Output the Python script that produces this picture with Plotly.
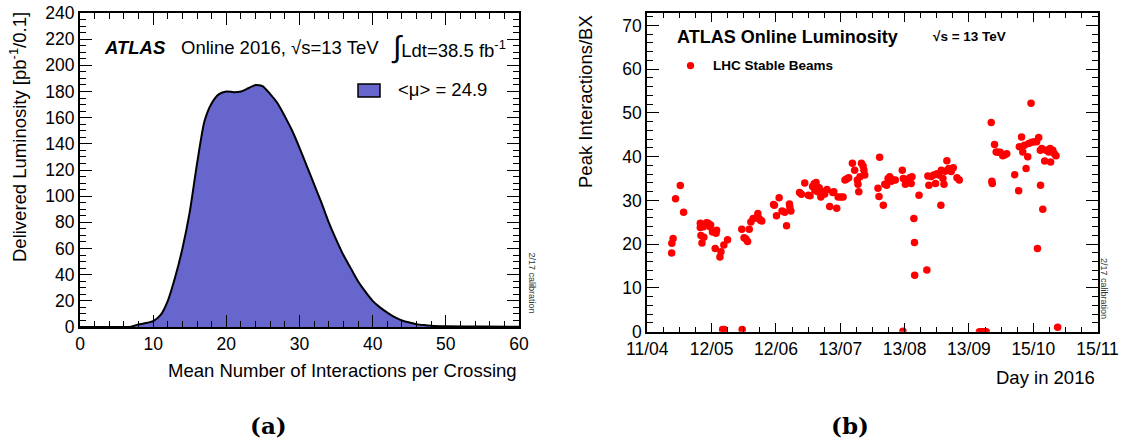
import plotly.graph_objects as go

W, H = 1125, 443

# ---------------- (a) pile-up distribution ----------------
mu_values = [0, 6, 7, 8, 9, 10, 11, 12, 13, 14, 15, 16, 17, 18, 19, 20, 21, 22, 23, 24,
             25, 26, 27, 28, 29, 30, 31, 32, 33, 34, 35, 36, 37, 38, 39, 40, 41, 42, 43,
             44, 45, 46, 47, 48, 50, 55, 60]
delivered_lumi = [0, 0, 0.3, 2, 3, 4.5, 9, 20, 38, 60, 88, 125, 157, 171, 178, 180, 179.5,
                  180, 182.5, 185, 184, 178, 171, 161, 150, 137, 123, 109, 95, 80, 67, 55,
                  45, 35, 27, 20, 15, 11, 7.5, 5, 3.5, 2.2, 1.5, 1, 0.6, 0.3, 0.2]

# ---------------- (b) peak interactions per BX ----------------
days_since_apr11 = [
    11.8, 11.9, 12.5, 13.7, 16.0, 17.6,
    25.7, 25.7, 26.0, 26.5, 27.4, 27.2, 28.7, 29.5, 30.7, 30.4, 31.6, 33.3, 33.6, 32.9,
    35.2, 35.7, 37.1, 38.9, 36.5, 37.3, 46.0,
    45.8, 46.9, 47.8, 48.6, 49.4, 50.2, 51.3, 52.6, 53.6, 54.2, 55.5, 54.8,
    61.2, 61.6, 62.6, 63.9,
    65.3, 66.6, 67.5, 68.9, 69.6, 69.1,
    73.8, 74.7, 76.3, 78.1, 78.9, 80.1, 80.9, 81.8, 81.2, 82.5, 83.3, 84.1, 85.2, 86.0,
    87.1, 88.4, 89.9, 90.4, 91.8, 92.5, 93.8, 94.9,
    95.8, 96.6, 97.6, 99.4, 100.5, 101.8, 102.1, 102.5, 103.1, 103.8, 104.6, 105.0, 105.4,
    112.6, 111.8, 112.3, 114.4, 115.1, 116.0, 116.7, 117.5, 118.3, 119.1, 120.2,
    123.6, 124.1, 125.1, 126.1, 127.2, 128.3, 123.9, 127.9,
    129.2, 129.5, 129.6,
    131.7, 135.5, 136.0, 136.5, 137.6, 138.8, 139.7, 140.4, 141.3, 142.3, 142.5, 143.3,
    143.8, 144.3, 145.2, 146.1, 147.3, 148.3, 150.1, 151.2,
    161.0, 161.8, 162.6, 163.5, 164.3,
    166.7, 167.0, 167.2, 168.3, 169.1, 169.9, 171.0, 172.3, 173.1, 174.2,
    178.1, 180.0, 180.3, 181.4, 182.0, 182.8, 183.6, 184.4, 184.9, 186.0, 186.3, 187.6,
    188.7, 189.1, 189.7, 190.5, 190.6, 191.7, 191.2, 192.6, 193.3, 194.6, 195.5, 195.2,
    196.5, 197.3, 198.1, 198.9,
]
peak_interactions = [
    18.0, 20.2, 21.3, 30.4, 33.4, 27.3,
    24.8, 23.8, 22.0, 20.3, 21.6, 24.0, 24.9, 24.8, 24.4, 24.0, 22.8, 22.5, 23.2, 19.0,
    17.1, 18.3, 19.8, 21.0, 0.5, 0.5, 0.5,
    23.4, 21.5, 21.2, 20.6, 23.4, 25.1, 25.9, 26.0, 27.0, 25.9, 25.3, 25.5,
    29.1, 28.9, 26.5, 30.6,
    27.6, 27.3, 24.2, 29.2, 27.6, 28.5,
    31.8, 31.4, 34.0, 31.2, 31.1, 33.2, 33.8, 34.1, 32.4, 32.0, 32.9, 30.8, 32.0, 31.5,
    32.5, 28.6, 31.8, 32.0, 28.2, 30.8, 30.8, 30.8,
    34.7, 34.9, 35.2, 38.5, 36.9, 34.7, 33.7, 32.0, 35.4, 38.5, 37.9, 36.9, 35.8,
    39.9, 32.8, 30.9, 28.9, 33.7, 33.5, 35.0, 35.4, 34.4, 34.7, 34.7,
    36.9, 35.0, 33.7, 34.7, 35.2, 35.4, 0.1, 33.9,
    25.9, 20.4, 12.9,
    31.2, 14.1, 35.6, 33.5, 35.5, 35.8, 33.9, 36.1, 35.8, 28.9, 36.9, 35.0,
    33.7, 36.7, 39.1, 37.3, 36.6, 37.5, 35.2, 34.7,
    0.0, 0.0, 0.0, 0.0, 0.0,
    47.8, 34.4, 33.9, 42.8, 41.1, 41.0, 41.0, 40.2, 40.4, 40.7,
    35.9, 32.2, 42.3, 44.5, 41.1, 42.6, 37.3, 40.0, 43.0, 52.2, 43.3, 43.4,
    43.4, 19.0, 44.4, 41.5, 33.5, 28.0, 41.9, 39.0, 41.5, 41.1, 38.8, 41.9,
    41.5, 40.7, 40.2, 1.0,
]

date_tick_labels = ["11/04", "12/05", "12/06", "13/07", "13/08", "13/09", "15/10", "15/11"]
TICK_STEP_DAYS = 31.18

def px_x(p):
    return p / W

def px_y(p):
    return 1 - p / H

FONT = "Liberation Sans, Arial, Helvetica, sans-serif"
fig = go.Figure()

fig.add_trace(go.Scatter(
    x=mu_values, y=delivered_lumi, mode="lines",
    line=dict(color="black", width=2, shape="spline", smoothing=0.6),
    fill="tozeroy", fillcolor="#6666cc",
    xaxis="x", yaxis="y", showlegend=False, hoverinfo="x+y"))

fig.add_trace(go.Scatter(
    x=days_since_apr11, y=peak_interactions, mode="markers",
    marker=dict(color="#ff0000", size=7.5, line=dict(width=0)),
    xaxis="x2", yaxis="y2", showlegend=False, name="LHC Stable Beams"))

def axis(**kw):
    base = dict(showline=True, linecolor="black", linewidth=2, mirror="allticks",
                ticks="inside", ticklen=12, tickwidth=1.3, tickcolor="black",
                showgrid=False, zeroline=False, automargin=False,
                tickfont=dict(family=FONT, size=17.5, color="black"))
    base.update(kw)
    return base

minor_x = dict(ticks="inside", ticklen=6, tickwidth=1, tickcolor="black", showgrid=False)

fig.update_layout(
    width=W, height=H, margin=dict(l=0, r=0, t=0, b=0, autoexpand=False),
    paper_bgcolor="white", plot_bgcolor="white",
    xaxis=axis(domain=[px_x(80), px_x(519)], range=[0, 60], tick0=0, dtick=10,
               anchor="y", minor=dict(minor_x, dtick=2)),
    yaxis=axis(domain=[px_y(327), px_y(13)], range=[0, 240], tick0=0, dtick=20,
               anchor="x", minor=dict(minor_x, dtick=5)),
    xaxis2=axis(domain=[px_x(647.3), px_x(1097.6)], range=[0, 7 * TICK_STEP_DAYS],
                tickmode="array",
                tickvals=[k * TICK_STEP_DAYS for k in range(len(date_tick_labels))],
                ticktext=date_tick_labels, anchor="y2", ticklen=9,
                minor=dict(minor_x, ticklen=4.5, tickmode="array",
                           tickvals=[k * TICK_STEP_DAYS / 4 for k in range(29)])),
    yaxis2=axis(domain=[px_y(331.7), px_y(13)], range=[0, 72.85], tick0=0, dtick=10,
                anchor="x2", minor=dict(minor_x, dtick=2)),
)

ann = []
def text(x, y, s, size=18.5, xanchor="left", yanchor="middle", angle=0, family=FONT, color="black"):
    ann.append(dict(x=px_x(x), y=px_y(y), xref="paper", yref="paper", text=s,
                    showarrow=False, xanchor=xanchor, yanchor=yanchor, textangle=angle,
                    font=dict(family=family, size=size, color=color)))

# panel (a) texts
text(102, 48, "<b><i>ATLAS</i></b>", size=18.5)
text(179, 48, "Online 2016, √s=13 TeV", size=18.5)
text(389, 47, "<span style='font-size:30px'>∫</span>Ldt=38.5 fb<sup>-1</sup>", size=18.5)
text(396, 90, "&lt;μ&gt; = 24.9", size=18.5)
text(18, 137, "Delivered Luminosity [pb<sup>-1</sup>/0.1]", angle=-90, xanchor="center")
text(519, 370, "Mean Number of Interactions per Crossing", xanchor="right")
text(531.5, 283, "2/17 calibration", size=9, angle=90, xanchor="center", color="#333333")

# panel (b) texts
text(674.6, 37.5, "<b>ATLAS Online Luminosity</b>", size=18)
text(931, 37, "<b>√s = 13 TeV</b>", size=13.5)
text(710.6, 65.6, "<b>LHC Stable Beams</b>", size=13.5)
text(585, 102, "Peak Interactions/BX", angle=-90, xanchor="center")
text(1097, 377, "Day in 2016", xanchor="right")
text(1104, 288, "2/17 calibration", size=9, angle=90, xanchor="center", color="#333333")

# captions
text(268, 425, "<b>(a)</b>", size=23, xanchor="center", family="DejaVu Serif, Liberation Serif, serif")
text(850, 425, "<b>(b)</b>", size=23, xanchor="center", family="DejaVu Serif, Liberation Serif, serif")

fig.update_layout(annotations=ann)

fig.update_layout(shapes=[
    # legend box of panel (a)
    dict(type="rect", xref="paper", yref="paper",
         x0=px_x(358), x1=px_x(380), y0=px_y(97), y1=px_y(84),
         fillcolor="#6666cc", line=dict(color="black", width=1.5)),
    # legend marker of panel (b)
    dict(type="circle", xref="paper", yref="paper",
         x0=px_x(686.8), x1=px_x(694.2), y0=px_y(69.3), y1=px_y(61.9),
         fillcolor="#ff0000", line=dict(width=0)),
])

fig.write_html("out.html")
